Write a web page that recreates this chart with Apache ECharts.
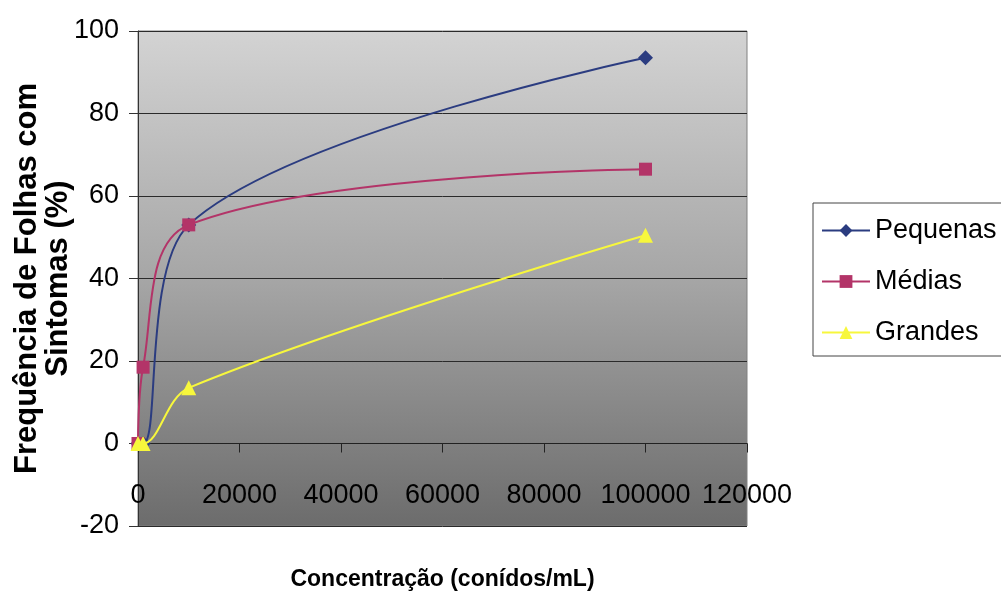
<!DOCTYPE html>
<html>
<head>
<meta charset="utf-8">
<script src="https://cdn.jsdelivr.net/npm/echarts@6/dist/echarts.min.js"></script>
<style>html,body{margin:0;padding:0;background:#fff;}#c{width:1001px;height:594px;}</style>
</head>
<body>
<div id="c"></div>
<script>
const concentrations = [0, 1000, 10000, 100000];
const pequenas = [0, 0, 53, 93.5];
const medias = [0, 18.5, 53, 66.5];
const grandes = [0, 0, 13.5, 50.5];
const seriesNames = ['Pequenas', 'Médias', 'Grandes'];
const xTitle = 'Concentração (conídos/mL)';
const yTitle = 'Frequência de Folhas com\nSintomas (%)';

const sans = "'Liberation Sans', Arial, sans-serif";

function pairs(ys) { return concentrations.map((x, i) => [x, ys[i]]); }

const chart = echarts.init(document.getElementById('c'), null, {renderer: 'canvas'});
chart.setOption({
  animation: false,
  backgroundColor: '#ffffff',
  grid: {
    left: 138, right: 254, top: 31, bottom: 68,
    containLabel: false,
    outerBoundsMode: 'none',
    show: true,
    borderColor: '#808080', borderWidth: 1,
    backgroundColor: new echarts.graphic.LinearGradient(0, 0, 0, 1, [
      {offset: 0, color: '#d3d3d3'},
      {offset: 0.5, color: '#a6a6a6'},
      {offset: 1, color: '#6c6c6c'}
    ])
  },
  xAxis: {
    type: 'value', min: 0, max: 120000, interval: 20000,
    axisLine: {show: true, onZero: true, lineStyle: {color: '#222', width: 1}},
    axisTick: {show: true, length: 9, lineStyle: {color: '#222'}},
    splitLine: {show: false},
    axisLabel: {color: '#000', fontFamily: sans, fontSize: 27, margin: -44,
      showMaxLabel: true, showMinLabel: true, hideOverlap: false,
      formatter: function (v) { return String(v); }},
    name: xTitle, nameLocation: 'middle', nameGap: 42, nameMoveOverlap: false,
    nameTextStyle: {color: '#000', fontFamily: sans, fontWeight: 'bold', fontSize: 23}
  },
  yAxis: {
    type: 'value', min: -20, max: 100, interval: 20,
    axisLine: {show: true, onZero: false, lineStyle: {color: '#333', width: 1}},
    axisTick: {show: true, length: 9, lineStyle: {color: '#333'}},
    splitLine: {show: true, lineStyle: {color: '#2a2a2a', width: 1}},
    axisLabel: {color: '#000', fontFamily: sans, fontSize: 27, margin: 19},
    name: yTitle, nameLocation: 'middle', nameGap: 64, nameRotate: 90, nameMoveOverlap: false,
    nameTextStyle: {color: '#000', fontFamily: sans, fontWeight: 'bold', fontSize: 31, lineHeight: 31, align: 'center'}
  },
  legend: {
    orient: 'vertical', left: 813, top: 203,
    padding: [14, 12, 10, 8],
    itemGap: 24, itemWidth: 48, itemHeight: 16,
    backgroundColor: '#ffffff', borderColor: '#444', borderWidth: 1, borderRadius: 0,
    textStyle: {color: '#000', fontFamily: sans, fontSize: 27},
    data: seriesNames
  },
  series: [
    {name: seriesNames[0], type: 'line', data: pairs(pequenas), smooth: 0.35,
     symbol: 'diamond', symbolSize: 15, z: 3,
     lineStyle: {color: '#2b3c80', width: 2}, itemStyle: {color: '#2b3c80'}},
    {name: seriesNames[1], type: 'line', data: pairs(medias), smooth: 0.35,
     symbol: 'rect', symbolSize: 13, z: 4,
     lineStyle: {color: '#b33468', width: 2}, itemStyle: {color: '#b33468'}},
    {name: seriesNames[2], type: 'line', data: pairs(grandes), smooth: 0.35,
     symbol: 'triangle', symbolSize: 15, z: 5,
     lineStyle: {color: '#f7f73c', width: 2}, itemStyle: {color: '#f7f73c'}}
  ]
});
</script>
</body>
</html>
